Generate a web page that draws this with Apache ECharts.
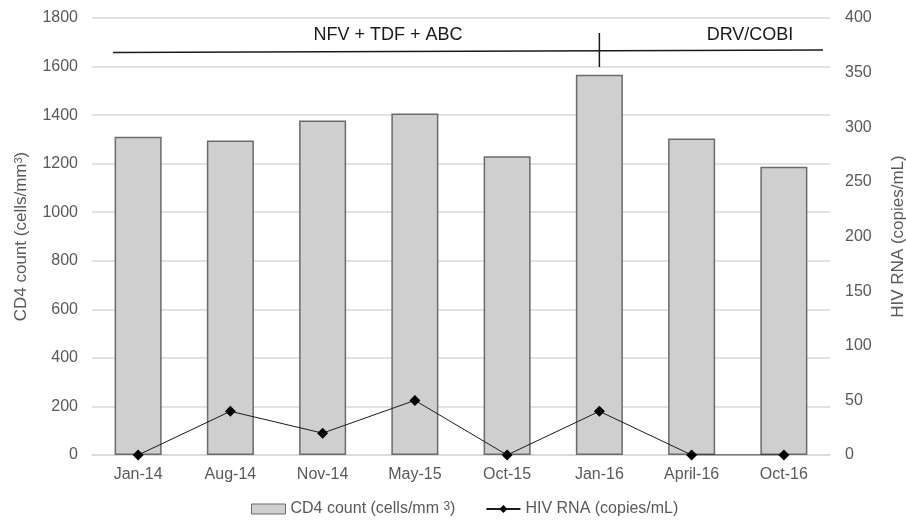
<!DOCTYPE html>
<html><head><meta charset="utf-8">
<script src="https://cdn.jsdelivr.net/npm/echarts@6/dist/echarts.min.js"></script>
<style>html,body{margin:0;padding:0;background:#fff}#c{width:906px;height:520px}</style>
</head><body><div id="c"></div>
<script>
var categories = ['Jan-14','Aug-14','Nov-14','May-15','Oct-15','Jan-16','April-16','Oct-16'];
var cd4 = [1311, 1295, 1378, 1407, 1231, 1566, 1304, 1187];
var hivRna = [0, 40, 20, 50, 0, 40, 0, 0];
var leftTicks = {min: 0, max: 1800, interval: 200};
var rightTicks = {min: 0, max: 400, interval: 50};
var regimens = ['NFV + TDF + ABC', 'DRV/COBI'];

var font = 'Liberation Sans, Arial, sans-serif';
var chart = echarts.init(document.getElementById('c'));
chart.setOption({
  animation: false,
  grid: {left: 92, right: 76, top: 18, bottom: 65, containLabel: false, outerBoundsMode: 'none'},
  legend: {
    bottom: -2, left: 246, itemGap: 30,
    textStyle: {fontFamily: font, fontSize: 16, color: '#595959',
      rich: {sup: {fontSize: 12, verticalAlign: 'top', color: '#595959', fontFamily: font}}},
    formatter: function(n){ return n === 'CD4 count (cells/mm3)' ? 'CD4 count (cells/mm {sup|3})' : n; },
    data: [
      {name: 'CD4 count (cells/mm3)', icon: 'rect', itemStyle: {color: '#d0cfd0', borderColor: '#6b6b6b', borderWidth: 1}},
      {name: 'HIV RNA (copies/mL)'}
    ],
    itemWidth: 34, itemHeight: 10
  },
  xAxis: {
    type: 'category', data: categories,
    axisLine: {lineStyle: {color: '#d9d9d9', width: 1.5}},
    axisTick: {show: false},
    axisLabel: {fontFamily: font, fontSize: 16, color: '#595959', margin: 12}
  },
  yAxis: [
    {type: 'value', min: leftTicks.min, max: leftTicks.max, interval: leftTicks.interval,
     name: 'CD4 count (cells/mm{sup|3})', nameLocation: 'middle', nameGap: 62, nameRotate: 90,
     nameTextStyle: {fontFamily: font, fontSize: 17, color: '#595959',
       rich: {sup: {fontSize: 11, color: '#595959', fontFamily: font, verticalAlign: 'top'}}},
     axisLine: {show: false}, axisTick: {show: false},
     axisLabel: {fontFamily: font, fontSize: 16, color: '#595959', margin: 14, formatter: function(v){return String(v);}},
     splitLine: {lineStyle: {color: '#d9d9d9', width: 1.5}}},
    {type: 'value', min: rightTicks.min, max: rightTicks.max, interval: rightTicks.interval,
     name: 'HIV RNA (copies/mL)', nameLocation: 'middle', nameGap: 60, nameRotate: 90,
     nameTextStyle: {fontFamily: font, fontSize: 17, color: '#595959'},
     axisLine: {show: false}, axisTick: {show: false},
     axisLabel: {fontFamily: font, fontSize: 16, color: '#595959', margin: 15},
     splitLine: {show: false}}
  ],
  series: [
    {name: 'CD4 count (cells/mm3)', type: 'bar', data: cd4, barWidth: '51%', yAxisIndex: 0,
     itemStyle: {color: '#d0cfd0', borderColor: '#6b6b6b', borderWidth: 1.5}},
    {name: 'HIV RNA (copies/mL)', type: 'line', data: hivRna, yAxisIndex: 1,
     symbol: 'diamond', symbolSize: 11, lineStyle: {color: '#1a1a1a', width: 1},
     itemStyle: {color: '#000'}}
  ]
});

// regimen annotation
var y1 = chart.convertToPixel({yAxisIndex: 0}, 1660);
var xL = chart.convertToPixel({xAxisIndex: 0}, 0) - 25;
var xSwitch = chart.convertToPixel({xAxisIndex: 0}, 5);
var xR = 823;
chart.setOption({graphic: [
  {type: 'line', shape: {x1: xL, y1: y1 + 0.5, x2: xR, y2: y1 - 2}, style: {stroke: '#1a1a1a', lineWidth: 1.5}},
  {type: 'line', shape: {x1: xSwitch, y1: y1 - 19, x2: xSwitch, y2: y1 + 15}, style: {stroke: '#1a1a1a', lineWidth: 1.5}},
  {type: 'text', x: 388, y: y1 - 17, style: {text: regimens[0], font: '18px ' + font, fill: '#1a1a1a', textAlign: 'center', textVerticalAlign: 'middle'}},
  {type: 'text', x: 750, y: y1 - 17, style: {text: regimens[1], font: '18px ' + font, fill: '#1a1a1a', textAlign: 'center', textVerticalAlign: 'middle'}}
]});
</script></body></html>
